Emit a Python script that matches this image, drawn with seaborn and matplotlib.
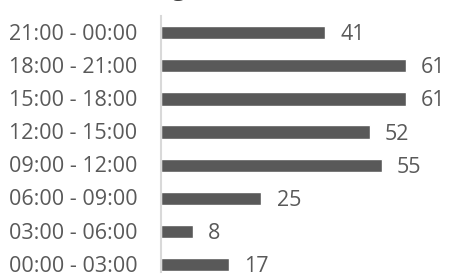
import pandas as pd
import matplotlib
matplotlib.use("Agg")
import matplotlib.pyplot as plt
import matplotlib.transforms as mtransforms
import seaborn as sns

# --- DATA (top to bottom as drawn) ---
time_slots = [
    "21:00 - 00:00", "18:00 - 21:00", "15:00 - 18:00", "12:00 - 15:00",
    "09:00 - 12:00", "06:00 - 09:00", "03:00 - 06:00", "00:00 - 03:00",
]
counts = [41, 61, 61, 52, 55, 25, 8, 17]

BAR_COLOR = "#595959"
TEXT_COLOR = "#595959"
AXIS_COLOR = "#D9D9D9"
FONT_SIZE = 15.5


def main():
    sns.set_style("white")
    plt.rcParams["font.family"] = ["Open Sans", "DejaVu Sans"]

    df = pd.DataFrame({"slot": time_slots, "count": counts})

    fig = plt.figure(figsize=(4.49, 2.76), dpi=100)
    ax = fig.add_axes([161 / 449, 4 / 276, 288 / 449, 256 / 276])

    sns.barplot(data=df, x="count", y="slot", order=time_slots,
                color=BAR_COLOR, width=0.4, saturation=1, ax=ax)

    # value labels, nudged down a bit so the digits sit on the bar centre
    labels = ax.bar_label(ax.containers[0], padding=11, fontsize=FONT_SIZE,
                          color=TEXT_COLOR)
    for t in labels:
        t.xyann = (11, -1.5)

    ax.set_xlim(0, 71.8)
    ax.set_ylim(7.22, -0.5)
    ax.set_xlabel("")
    ax.set_ylabel("")
    ax.set_xticks([])
    ax.tick_params(axis="y", length=0, pad=17, labelsize=FONT_SIZE,
                   labelcolor=TEXT_COLOR)

    # lift the category labels a little
    shift = mtransforms.ScaledTranslation(0, 1 / 100, fig.dpi_scale_trans)
    for lab in ax.get_yticklabels():
        lab.set_transform(lab.get_transform() + shift)

    for side in ["top", "right", "bottom"]:
        ax.spines[side].set_visible(False)
    ax.spines["left"].set_color(AXIS_COLOR)
    ax.spines["left"].set_linewidth(1.5)

    # title sits mostly above the crop, only the tail of a "g" shows
    fig.text(178 / 449, 1 + 5 / 276, "g", ha="center", va="baseline",
             fontsize=18, color="#404040")

    fig.savefig("out.png", dpi=100)


if __name__ == "__main__":
    main()
